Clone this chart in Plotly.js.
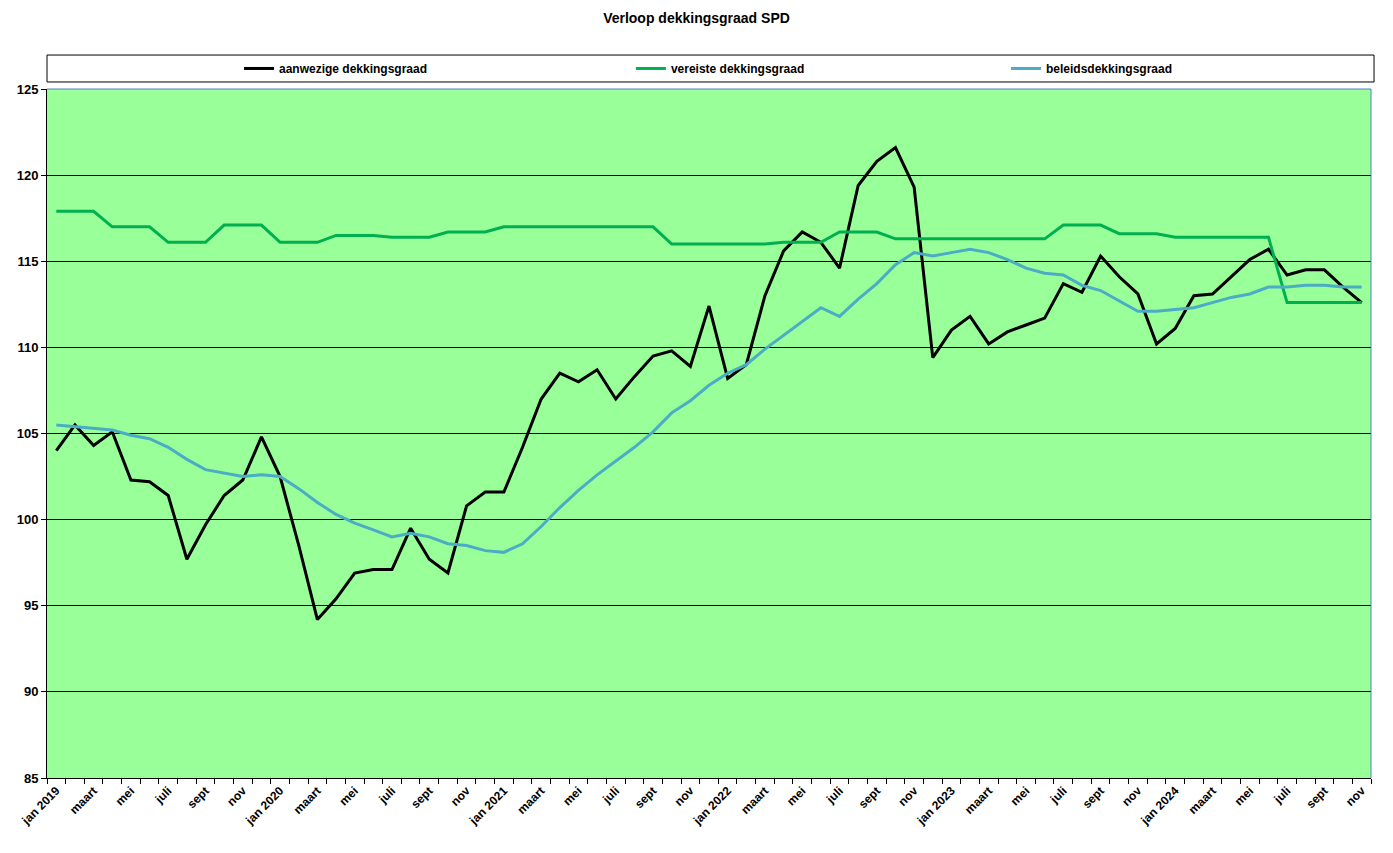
<!DOCTYPE html>
<html>
<head>
<meta charset="utf-8">
<script src="https://cdn.plot.ly/plotly-3.0.1.min.js"></script>
<style>
  body { margin: 0; background: #fff; }
  #chart { width: 1393px; height: 853px; }
</style>
</head>
<body>
<div id="chart"></div>
<script>
// month labels, jan 2019 .. nov 2024 (only every second one is shown on the axis)
var maanden = ["jan 2019","feb","maart","apr","mei","jun","juli","aug","sept","okt","nov","dec",
  "jan 2020","feb","maart","apr","mei","jun","juli","aug","sept","okt","nov","dec",
  "jan 2021","feb","maart","apr","mei","jun","juli","aug","sept","okt","nov","dec",
  "jan 2022","feb","maart","apr","mei","jun","juli","aug","sept","okt","nov","dec",
  "jan 2023","feb","maart","apr","mei","jun","juli","aug","sept","okt","nov","dec",
  "jan 2024","feb","maart","apr","mei","jun","juli","aug","sept","okt","nov"];

var aanwezig = [104.0,105.5,104.3,105.1,102.3,102.2,101.4,97.7,99.7,101.4,102.3,104.8,
  102.5,98.5,94.2,95.4,96.9,97.1,97.1,99.5,97.7,96.9,100.8,101.6,
  101.6,104.2,107.0,108.5,108.0,108.7,107.0,108.3,109.5,109.8,108.9,112.4,
  108.2,109.0,113.0,115.6,116.7,116.1,114.6,119.4,120.8,121.6,119.3,109.4,
  111.0,111.8,110.2,110.9,111.3,111.7,113.7,113.2,115.3,114.1,113.1,110.2,
  111.1,113.0,113.1,114.1,115.1,115.7,114.2,114.5,114.5,113.5,112.6];

var vereist = [117.9,117.9,117.9,117.0,117.0,117.0,116.1,116.1,116.1,117.1,117.1,117.1,
  116.1,116.1,116.1,116.5,116.5,116.5,116.4,116.4,116.4,116.7,116.7,116.7,
  117.0,117.0,117.0,117.0,117.0,117.0,117.0,117.0,117.0,116.0,116.0,116.0,
  116.0,116.0,116.0,116.1,116.1,116.1,116.7,116.7,116.7,116.3,116.3,116.3,
  116.3,116.3,116.3,116.3,116.3,116.3,117.1,117.1,117.1,116.6,116.6,116.6,
  116.4,116.4,116.4,116.4,116.4,116.4,112.6,112.6,112.6,112.6,112.6];

var beleid = [105.5,105.4,105.3,105.2,104.9,104.7,104.2,103.5,102.9,102.7,102.5,102.6,
  102.5,101.8,101.0,100.3,99.8,99.4,99.0,99.2,99.0,98.6,98.5,98.2,
  98.1,98.6,99.6,100.7,101.7,102.6,103.4,104.2,105.1,106.2,106.9,107.8,
  108.5,109.0,109.9,110.7,111.5,112.3,111.8,112.8,113.7,114.8,115.5,115.3,
  115.5,115.7,115.5,115.1,114.6,114.3,114.2,113.6,113.3,112.7,112.1,112.1,
  112.2,112.3,112.6,112.9,113.1,113.5,113.5,113.6,113.6,113.5,113.5];

var x = [];
for (var i = 0; i < maanden.length; i++) { x.push(i); }

var tickVals = [];
var tickText = [];
for (var i = 0; i < maanden.length; i += 2) {
  tickVals.push(i);
  tickText.push(maanden[i]);
}

var fnt = 'Arial, "Liberation Sans", sans-serif';

var data = [
  { x: x, y: aanwezig, type: 'scatter', mode: 'lines', name: 'aanwezige dekkingsgraad',
    line: { color: '#000000', width: 3 }, legend: 'legend' },
  { x: x, y: vereist, type: 'scatter', mode: 'lines', name: 'vereiste dekkingsgraad',
    line: { color: '#00B050', width: 3 }, legend: 'legend2' },
  { x: x, y: beleid, type: 'scatter', mode: 'lines', name: 'beleidsdekkingsgraad',
    line: { color: '#4BACC6', width: 3 }, legend: 'legend3' }
];

// one small legend per series so the three entries sit where the reference has them
function leg(xpos) {
  return {
    orientation: 'h', x: xpos, xanchor: 'left', y: 1.0298, yanchor: 'middle',
    bgcolor: 'rgba(0,0,0,0)', borderwidth: 0, itemwidth: 30,
    font: { family: fnt, size: 12, color: '#000', weight: 'bold' }
  };
}

var layout = {
  width: 1393,
  height: 853,
  margin: { l: 47, r: 22, t: 89, b: 75 },
  paper_bgcolor: '#ffffff',
  plot_bgcolor: '#99FF99',
  title: { text: '<b>Verloop dekkingsgraad SPD</b>', x: 0.5, xanchor: 'center', y: 0.979, yanchor: 'middle',
    font: { family: fnt, size: 14, color: '#000' } },
  showlegend: true,
  legend: leg(0.1450),
  legend2: leg(0.4410),
  legend3: leg(0.7243),
  shapes: [
    { type: 'rect', xref: 'paper', yref: 'paper', x0: 0, x1: 1.0023, y0: 1.0102, y1: 1.0493,
      line: { color: '#000', width: 1 }, fillcolor: '#ffffff', layer: 'below' },
    // thin blue frame on top and right of the plot area
    { type: 'line', xref: 'paper', yref: 'paper', x0: 0, x1: 1, y0: 1, y1: 1,
      line: { color: '#4F81BD', width: 1 } },
    { type: 'line', xref: 'paper', yref: 'paper', x0: 1, x1: 1, y0: 0, y1: 1,
      line: { color: '#4F81BD', width: 1 } }
  ],
  xaxis: {
    range: [-0.5, maanden.length - 0.5],
    tickmode: 'array', tickvals: tickVals, ticktext: tickText,
    tickangle: -45, ticks: '', showgrid: false, zeroline: false,
    showline: true, linecolor: '#000', linewidth: 1, mirror: false,
    tickfont: { family: fnt, size: 12, color: '#000', weight: 'bold' },
    minor: { tickmode: 'linear', tick0: -0.5, dtick: 1, ticks: 'outside', ticklen: 5, tickcolor: '#000', showgrid: false }
  },
  yaxis: {
    range: [85, 125], dtick: 5, tick0: 85,
    ticks: 'outside', ticklen: 5, tickcolor: '#000',
    showgrid: true, gridcolor: '#000', gridwidth: 1, zeroline: false,
    showline: true, linecolor: '#000', linewidth: 1,
    tickfont: { family: fnt, size: 13, color: '#000', weight: 'bold' }
  }
};

Plotly.newPlot('chart', data, layout, { displayModeBar: false, staticPlot: true });
</script>
</body>
</html>
